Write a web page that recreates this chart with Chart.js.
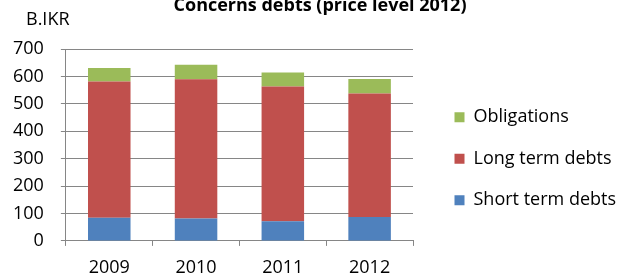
<!DOCTYPE html>
<html>
<head>
<meta charset="utf-8">
<script src="https://cdn.jsdelivr.net/npm/chart.js@4"></script>
<style>
  html, body { margin: 0; padding: 0; background: #fff; }
  #wrap { width: 620px; height: 279px; }
</style>
</head>
<body>
<div id="wrap"><canvas id="grafico" width="620" height="279"></canvas></div>
<script>
const years = ["2009", "2010", "2011", "2012"];
const shortTerm = [84, 82, 72, 87];
const longTerm = [497, 508, 491, 451];
const obligations = [50, 53, 51, 53];
const yTicks = [0, 100, 200, 300, 400, 500, 600, 700];

const chartTitle = "Concerns debts (price level 2012)";
const unitLabel = "B.IKR";

const FONT = "'Open Sans', sans-serif";

// textos fijos (titulo cortado arriba y unidad)
const textos = {
  id: "textos",
  afterDraw(chart) {
    const c = chart.ctx;
    c.save();
    c.fillStyle = "#000";
    c.textBaseline = "alphabetic";
    c.font = "bold 18px " + FONT;
    c.textAlign = "center";
    c.fillText(chartTitle, 320, 11);
    c.font = "18px " + FONT;
    c.textAlign = "left";
    c.textBaseline = "middle";
    c.fillText(unitLabel, 26, 20);
    c.restore();
  },
};

// leyenda: ancho fijo y un poco desplazada
const moverLeyenda = {
  id: "moverLeyenda",
  beforeLayout(chart) {
    const lg = chart.legend;
    if (lg && !lg._fitFijo) {
      const fit = lg.fit;
      lg.fit = function () {
        fit.call(this);
        this.width = 207;
      };
      lg._fitFijo = true;
    }
  },
  afterLayout(chart) {
    const lg = chart.legend;
    lg.left += 18;
    lg.right += 18;
    lg.top -= 11;
    lg.bottom -= 11;
  },
};

const ctx = document.getElementById("grafico");

const grafico = new Chart(ctx, {
  type: "bar",
  data: {
    labels: years,
    datasets: [
      {
        label: "Short term debts",
        data: shortTerm,
        backgroundColor: "#4F81BD",
      },
      {
        label: "Long term debts",
        data: longTerm,
        backgroundColor: "#C0504D",
      },
      {
        label: "Obligations",
        data: obligations,
        backgroundColor: "#9BBB59",
      },
    ],
  },
  options: {
    responsive: false,
    animation: false,
    layout: {
      padding: { top: 49, left: -4, right: 0, bottom: -11.5 },
    },
    datasets: {
      bar: {
        categoryPercentage: 1,
        barPercentage: 0.49,
        borderWidth: 0,
      },
    },
    plugins: {
      title: { display: false },
      tooltip: { enabled: false },
      legend: {
        position: "right",
        reverse: true,
        labels: {
          boxWidth: 10,
          boxHeight: 10,
          padding: 23.5,
          color: "#000",
          font: { family: FONT, size: 18 },
        },
      },
    },
    scales: {
      x: {
        stacked: true,
        grid: {
          drawOnChartArea: false,
          tickLength: 5,
          color: "#868686",
        },
        border: { color: "#868686" },
        ticks: {
          color: "#000",
          padding: 11.5,
          font: { family: FONT, size: 18 },
        },
      },
      y: {
        stacked: true,
        min: 0,
        max: 700,
        afterBuildTicks(axis) {
          axis.ticks = yTicks.map((v) => ({ value: v }));
        },
        grid: {
          color: "#868686",
          tickLength: 5,
        },
        border: { color: "#868686" },
        ticks: {
          color: "#000",
          padding: 17,
          font: { family: FONT, size: 18 },
        },
      },
    },
  },
  plugins: [textos, moverLeyenda],
});
</script>
</body>
</html>
